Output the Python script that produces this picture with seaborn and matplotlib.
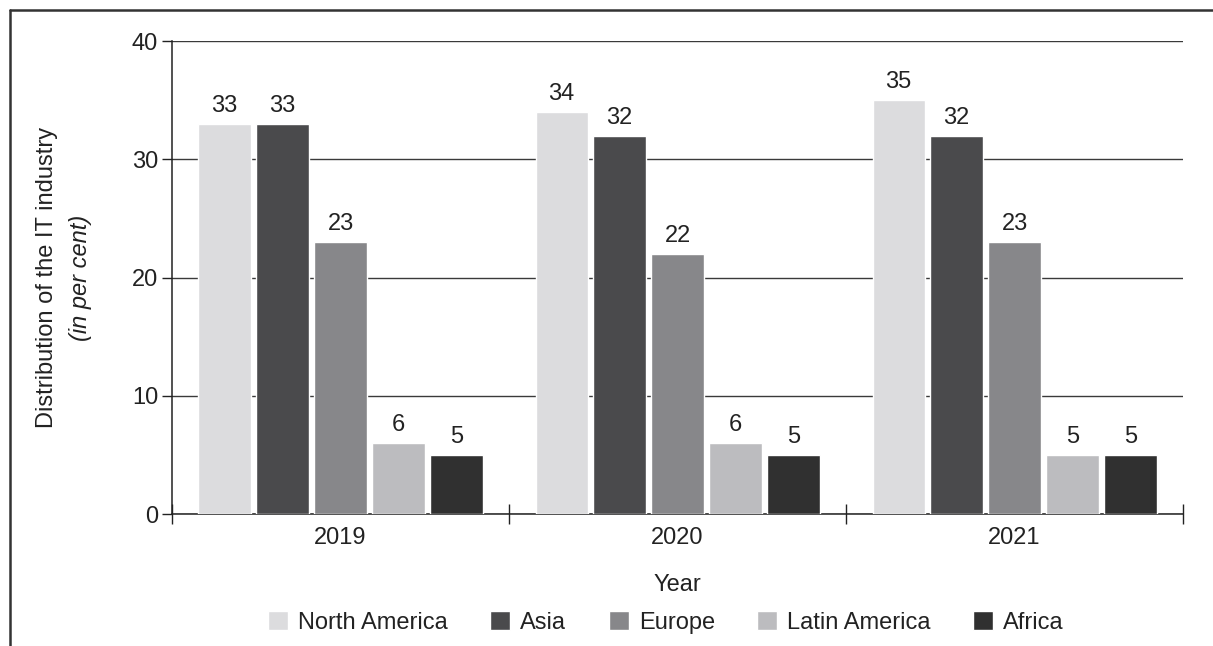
import matplotlib
matplotlib.use("Agg")
import matplotlib.pyplot as plt
from matplotlib.lines import Line2D
import pandas as pd
import seaborn as sns

# Data
years = ["2019", "2020", "2021"]
regions = ["North America", "Asia", "Europe", "Latin America", "Africa"]
north_america = [33, 34, 35]
asia = [33, 32, 32]
europe = [23, 22, 23]
latin_america = [6, 6, 5]
africa = [5, 5, 5]
colors = ["#dcdcde", "#4a4a4c", "#87878a", "#bcbcbf", "#303030"]

series = [north_america, asia, europe, latin_america, africa]
rows = []
for region, vals in zip(regions, series):
    for year, v in zip(years, vals):
        rows.append({"Year": year, "Region": region, "Share": v})
df = pd.DataFrame(rows)

sns.set_theme(style="white")
plt.rcParams["font.family"] = ["Liberation Sans", "DejaVu Sans"]

FS = 17
TXT = "#222222"

fig = plt.figure(figsize=(12.13, 6.46), dpi=100)
ax = fig.add_axes([0.1418, 0.2043, 0.8335, 0.7322])

sns.barplot(data=df, x="Year", y="Share", hue="Region", order=years,
            hue_order=regions, palette=colors, width=0.86, gap=0.1,
            saturation=1, errorbar=None, ax=ax, zorder=3)

for cont in ax.containers:
    ax.bar_label(cont, fmt="%g", padding=5, fontsize=FS, color=TXT)

ax.set_ylim(0, 40)
ax.set_xlim(-0.5, 2.5)
ax.set_yticks([0, 10, 20, 30, 40])
ax.yaxis.grid(True, color="#3a3a3a", linewidth=1.0, zorder=0)
ax.set_axisbelow(True)

for s in ["top", "right"]:
    ax.spines[s].set_visible(False)
for s in ["left", "bottom"]:
    ax.spines[s].set_color(TXT)
    ax.spines[s].set_linewidth(1.1)

ax.tick_params(axis="y", which="major", direction="out", length=7, width=1.0,
               color=TXT, labelsize=FS, labelcolor=TXT, pad=3, left=True)
ax.tick_params(axis="x", which="major", length=0, labelsize=FS,
               labelcolor=TXT, pad=9)
ax.set_xticks([-0.5, 0.5, 1.5, 2.5], minor=True)
ax.tick_params(axis="x", which="minor", direction="inout", length=14, width=1.0,
               color=TXT, bottom=True)

ax.set_xlabel("Year", fontsize=FS, color=TXT, labelpad=18)
ax.set_ylabel("")

# Y-axis title in two lines, second one italic
fig.text(0.039, 0.570, "Distribution of the IT industry", rotation=90,
         ha="center", va="center", fontsize=FS, color=TXT)
fig.text(0.066, 0.570, "(in per cent)", rotation=90, style="italic",
         ha="center", va="center", fontsize=FS, color=TXT)

handles, labels = ax.get_legend_handles_labels()
if ax.get_legend() is not None:
    ax.get_legend().remove()
fig.legend(handles, labels, loc="center", bbox_to_anchor=(0.549, 0.036),
           ncol=5, frameon=False, fontsize=FS, handlelength=0.85,
           handleheight=0.85, handletextpad=0.42, columnspacing=1.8,
           labelcolor=TXT)

# Partial frame around the figure (top and left edges)
fig.add_artist(Line2D([0.0085, 1.0], [0.984, 0.984], transform=fig.transFigure,
                      color="#333333", linewidth=1.8))
fig.add_artist(Line2D([0.0085, 0.0085], [0.0, 0.984], transform=fig.transFigure,
                      color="#333333", linewidth=1.8))

fig.savefig("out.png", dpi=100, facecolor="white")
